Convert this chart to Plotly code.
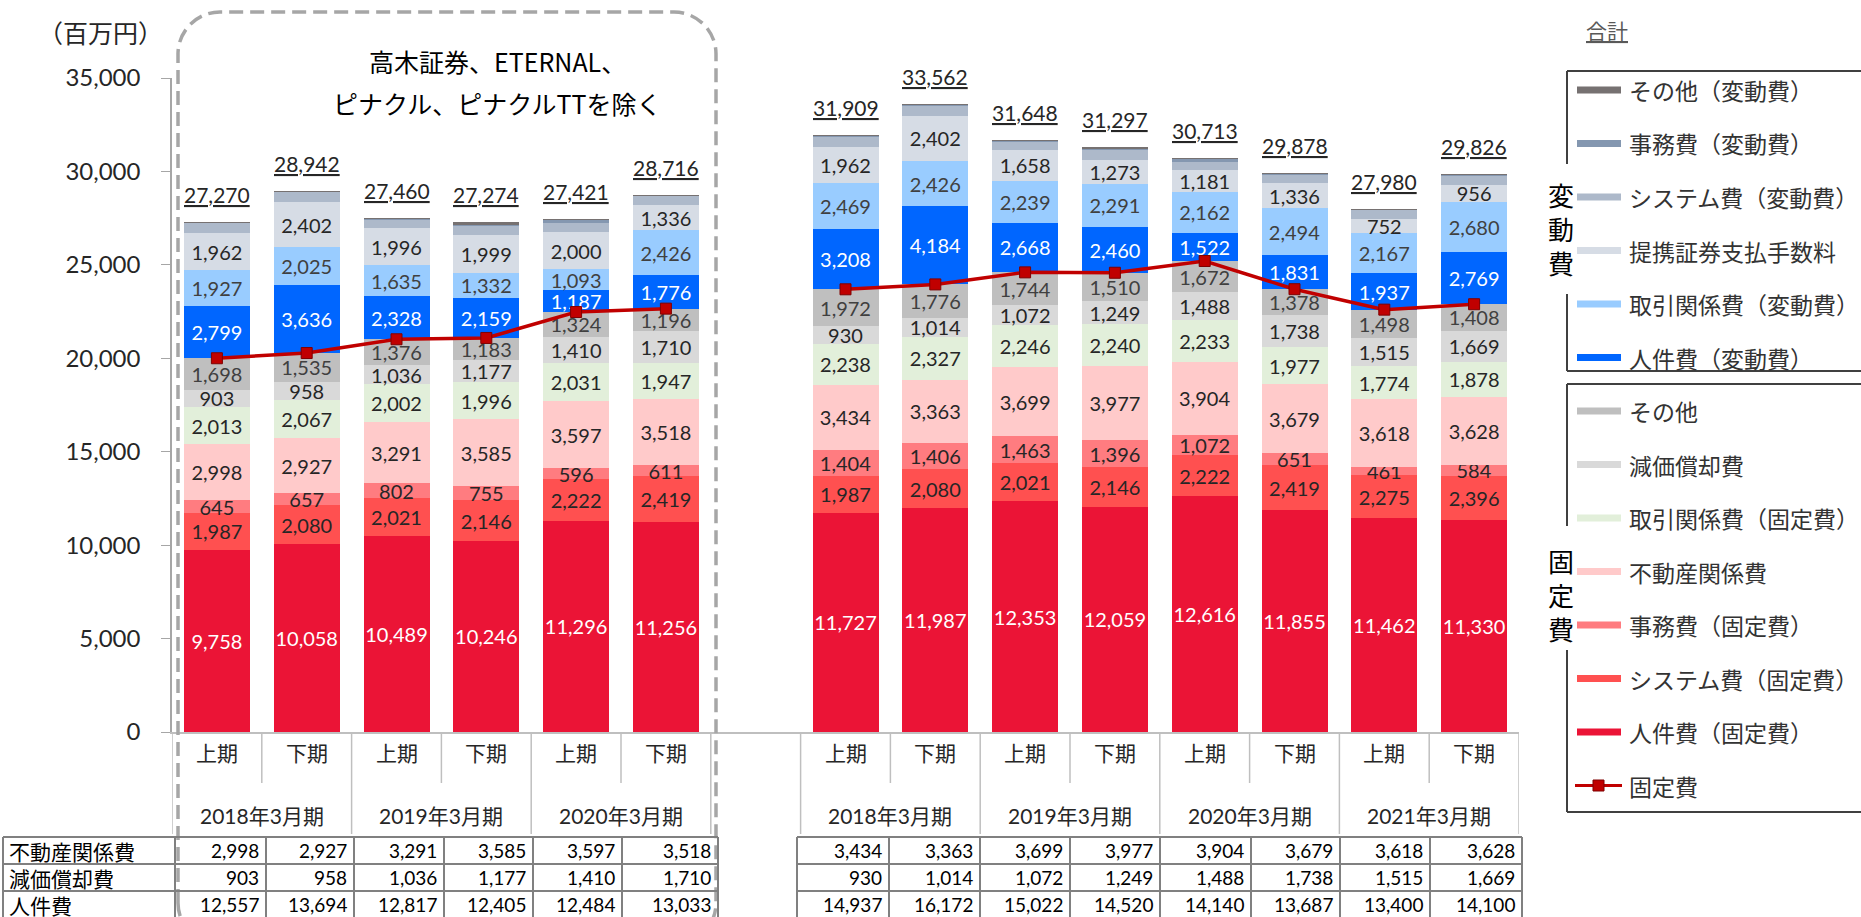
import plotly.graph_objects as go

W, H = 1861, 917

# ---------------- data ----------------
cat_x = list(range(15))  # 0-5 left panel, 6 = blank gap, 7-14 right panel
half_labels = ["上期", "下期", "上期", "下期", "上期", "下期", "",
               "上期", "下期", "上期", "下期", "上期", "下期", "上期", "下期"]
year_labels_left = ["2018年3月期", "2019年3月期", "2020年3月期"]
year_labels_right = ["2018年3月期", "2019年3月期", "2020年3月期", "2021年3月期"]

personnel_fixed = [9758, 10058, 10489, 10246, 11296, 11256, None, 11727, 11987, 12353, 12059, 12616, 11855, 11462, 11330]
system_fixed = [1987, 2080, 2021, 2146, 2222, 2419, None, 1987, 2080, 2021, 2146, 2222, 2419, 2275, 2396]
office_fixed = [645, 657, 802, 755, 596, 611, None, 1404, 1406, 1463, 1396, 1072, 651, 461, 584]
realestate = [2998, 2927, 3291, 3585, 3597, 3518, None, 3434, 3363, 3699, 3977, 3904, 3679, 3618, 3628]
trade_fixed = [2013, 2067, 2002, 1996, 2031, 1947, None, 2238, 2327, 2246, 2240, 2233, 1977, 1774, 1878]
depreciation = [903, 958, 1036, 1177, 1410, 1710, None, 930, 1014, 1072, 1249, 1488, 1738, 1515, 1669]
other_fixed = [1698, 1535, 1376, 1183, 1324, 1196, None, 1972, 1776, 1744, 1510, 1672, 1378, 1498, 1408]
personnel_var = [2799, 3636, 2328, 2159, 1187, 1776, None, 3208, 4184, 2668, 2460, 1522, 1831, 1937, 2769]
trade_var = [1927, 2025, 1635, 1332, 1093, 2426, None, 2469, 2426, 2239, 2291, 2162, 2494, 2167, 2680]
alliance_fee = [1962, 2402, 1996, 1999, 2000, 1336, None, 1962, 2402, 1658, 1273, 1181, 1336, 752, 956]
system_var = [550, 570, 464, 526, 500, 496, None, 548, 570, 460, 580, 446, 495, 496, 503]
office_var = [25, 22, 15, 40, 150, 20, None, 25, 22, 20, 66, 180, 20, 20, 20]
other_var = [5, 5, 5, 130, 15, 5, None, 5, 5, 5, 50, 15, 5, 5, 5]

totals = [27270, 28942, 27460, 27274, 27421, 28716, None, 31909, 33562, 31648, 31297, 30713, 29878, 27980, 29826]
fixed_cost = [20002, 20282, 21017, 21088, 22476, 22657, None, 23692, 23953, 24598, 24577, 25207, 23697, 22603, 22893]

table_row_names = ["不動産関係費", "減価償却費", "人件費"]
table_realestate = realestate
table_depreciation = depreciation
table_personnel = [12557, 13694, 12817, 12405, 12484, 13033, None, 14937, 16172, 15022, 14520, 14140, 13687, 13400, 14100]

y_ticks = [0, 5000, 10000, 15000, 20000, 25000, 30000, 35000]

# ---------------- style ----------------
NUM_FONT = "Lato, 'Noto Sans CJK JP', sans-serif"
JP_FONT = "'Noto Sans CJK JP', sans-serif"
DARK = "#262626"

series = [
    ("人件費（固定費）", personnel_fixed, "#EB1436", "white"),
    ("システム費（固定費）", system_fixed, "#FF5050", DARK),
    ("事務費（固定費）", office_fixed, "#FF7C80", DARK),
    ("不動産関係費", realestate, "#FFCACA", DARK),
    ("取引関係費（固定費）", trade_fixed, "#E2EFDA", DARK),
    ("減価償却費", depreciation, "#D9D9D9", DARK),
    ("その他", other_fixed, "#BFBFBF", "#404040"),
    ("人件費（変動費）", personnel_var, "#0066FF", "white"),
    ("取引関係費（変動費）", trade_var, "#99CCFF", "#404040"),
    ("提携証券支払手数料", alliance_fee, "#D6DCE5", DARK),
    ("システム費（変動費）", system_var, "#ADB9CA", None),
    ("事務費（変動費）", office_var, "#8497B0", None),
    ("その他（変動費）", other_var, "#767171", None),
]
LINE_COLOR = "#C00000"


def px(x):
    return x / W


def py(y):
    return 1 - y / H


def pann(x, y, text, size, color, family=JP_FONT, xanchor="center"):
    return dict(x=px(x), y=py(y), xref="paper", yref="paper", text=text, showarrow=False,
                xanchor=xanchor, yanchor="middle", font=dict(family=family, size=size, color=color))


fig = go.Figure()
for name, vals, col, tcol in series:
    kw = {}
    if tcol:
        kw = dict(texttemplate="%{y:,}", textposition="inside", insidetextanchor="middle",
                  textangle=0, constraintext="none",
                  textfont=dict(family=NUM_FONT, size=20, color=tcol))
    fig.add_trace(go.Bar(x=cat_x, y=vals, name=name, marker=dict(color=col, line=dict(width=0)),
                         hoverinfo="skip", **kw))

fig.add_trace(go.Scatter(x=cat_x, y=fixed_cost, name="固定費", mode="lines+markers",
                         line=dict(color=LINE_COLOR, width=3.5),
                         marker=dict(symbol="square", size=11, color=LINE_COLOR,
                                     line=dict(color="#7F0000", width=1)),
                         hoverinfo="skip"))

ann = []
shapes = []

# totals above bars
for k, t in zip(cat_x, totals):
    if t is None:
        continue
    ann.append(dict(x=k, y=t, xref="x", yref="y", text=f"<u>{t:,}</u>", showarrow=False,
                    xanchor="center", yanchor="middle", yshift=28,
                    font=dict(family=NUM_FONT, size=21, color=DARK)))

# category labels
for k, lab in zip(cat_x, half_labels):
    if lab:
        ann.append(dict(x=k, y=py(752), xref="x", yref="paper", text=lab, showarrow=False,
                        xanchor="center", yanchor="middle",
                        font=dict(family=JP_FONT, size=21, color=DARK)))
for i, lab in enumerate(year_labels_left):
    ann.append(dict(x=2 * i + 0.5, y=py(815), xref="x", yref="paper", text=lab, showarrow=False,
                    xanchor="center", yanchor="middle",
                    font=dict(family=NUM_FONT, size=21, color=DARK)))
for i, lab in enumerate(year_labels_right):
    ann.append(dict(x=7 + 2 * i + 0.5, y=py(815), xref="x", yref="paper", text=lab, showarrow=False,
                    xanchor="center", yanchor="middle",
                    font=dict(family=NUM_FONT, size=21, color=DARK)))

# category dividers
long_b = [-0.5, 1.5, 3.5, 5.5, 6.5, 8.5, 10.5, 12.5, 14.5]
short_b = [0.5, 2.5, 4.5, 7.5, 9.5, 11.5, 13.5]
for b in long_b:
    shapes.append(dict(type="line", xref="x", yref="paper", x0=b, x1=b, y0=py(732), y1=py(834),
                       line=dict(color="#BFBFBF", width=1.5)))
for b in short_b:
    shapes.append(dict(type="line", xref="x", yref="paper", x0=b, x1=b, y0=py(732), y1=py(783),
                       line=dict(color="#BFBFBF", width=1.5)))

# unit label
ann.append(pann(100, 32, "（百万円）", 25, DARK))

# dashed rounded box and its caption
x0, x1, y0, y1, r = 178, 716, 12, 945, 42
c = 0.45
pts = [
    f"M {px(x0)},{py(y1 - r)}",
    f"L {px(x0)},{py(y0 + r)}",
    f"C {px(x0)},{py(y0 + r * c)} {px(x0 + r * c)},{py(y0)} {px(x0 + r)},{py(y0)}",
    f"L {px(x1 - r)},{py(y0)}",
    f"C {px(x1 - r * c)},{py(y0)} {px(x1)},{py(y0 + r * c)} {px(x1)},{py(y0 + r)}",
    f"L {px(x1)},{py(y1 - r)}",
    f"C {px(x1)},{py(y1 - r * c)} {px(x1 - r * c)},{py(y1)} {px(x1 - r)},{py(y1)}",
    f"L {px(x0 + r)},{py(y1)}",
    f"C {px(x0 + r * c)},{py(y1)} {px(x0)},{py(y1 - r * c)} {px(x0)},{py(y1 - r)}",
]
shapes.append(dict(type="path", xref="paper", yref="paper", path=" ".join(pts),
                   line=dict(color="#A6A6A6", width=3.5, dash="14px,7px"), layer="above"))
ann.append(pann(497, 61, "高木証券、ETERNAL、", 25, "black"))
ann.append(pann(497, 103, "ピナクル、ピナクルTTを除く", 25, "black"))

# ---------------- tables ----------------
row_y = [837, 864, 891, 918]
TCOL = "#808080"
left_cols = [3, 175, 266, 354, 444, 533, 622, 718]
right_cols = [797, 889, 980, 1070, 1160, 1251, 1340, 1430, 1522]
table_rows = [table_realestate, table_depreciation, table_personnel]


def draw_table(cols, idxs, with_header):
    for yy in row_y:
        shapes.append(dict(type="line", xref="paper", yref="paper", x0=px(cols[0]), x1=px(cols[-1]),
                           y0=py(yy), y1=py(yy), line=dict(color=TCOL, width=2)))
    for xx in cols:
        shapes.append(dict(type="line", xref="paper", yref="paper", x0=px(xx), x1=px(xx),
                           y0=py(row_y[0]), y1=py(row_y[-1]), line=dict(color=TCOL, width=2)))
    start = 1 if with_header else 0
    for ri, vals in enumerate(table_rows):
        yc = (row_y[ri] + row_y[ri + 1]) / 2
        if with_header:
            ann.append(pann(cols[0] + 4, yc, table_row_names[ri], 21, "black", xanchor="left"))
        for j, k in enumerate(idxs):
            ann.append(pann(cols[start + j + 1] - 5, yc, f"{vals[k]:,}", 19, "black",
                            family=NUM_FONT, xanchor="right"))


draw_table(left_cols, [0, 1, 2, 3, 4, 5], True)
draw_table(right_cols, [7, 8, 9, 10, 11, 12, 13, 14], False)

# ---------------- legend (drawn manually) ----------------
ann.append(pann(1607, 30, "<u>合計</u>", 21, "#595959"))
legend_items = [(s[0], s[2]) for s in series[::-1]]
for i, (name, col) in enumerate(legend_items):
    yy = 90 + 53.5 * i
    shapes.append(dict(type="line", xref="paper", yref="paper", x0=px(1577), x1=px(1621),
                       y0=py(yy), y1=py(yy), line=dict(color=col, width=7)))
    ann.append(pann(1627, yy, name, 23, "#333333", xanchor="left"))
yy = 90 + 53.5 * len(legend_items)
shapes.append(dict(type="line", xref="paper", yref="paper", x0=px(1575), x1=px(1622),
                   y0=py(yy), y1=py(yy), line=dict(color=LINE_COLOR, width=3)))
shapes.append(dict(type="rect", xref="paper", yref="paper", x0=px(1593), x1=px(1604),
                   y0=py(yy - 5.5), y1=py(yy + 5.5), line=dict(color="#7F0000", width=1),
                   fillcolor=LINE_COLOR))
ann.append(pann(1627, yy, "固定費", 23, "#333333", xanchor="left"))

# legend group boxes
BOX = "#404040"
for (top, brk0, brk1, bot) in [(71, 164, 294, 371), (384, 526, 650, 812)]:
    shapes.append(dict(type="line", xref="paper", yref="paper", x0=px(1567), x1=px(1870),
                       y0=py(top), y1=py(top), line=dict(color=BOX, width=2)))
    shapes.append(dict(type="line", xref="paper", yref="paper", x0=px(1567), x1=px(1870),
                       y0=py(bot), y1=py(bot), line=dict(color=BOX, width=2)))
    shapes.append(dict(type="line", xref="paper", yref="paper", x0=px(1567), x1=px(1567),
                       y0=py(top), y1=py(brk0), line=dict(color=BOX, width=2)))
    shapes.append(dict(type="line", xref="paper", yref="paper", x0=px(1567), x1=px(1567),
                       y0=py(brk1), y1=py(bot), line=dict(color=BOX, width=2)))
ann.append(pann(1561, 228, "変<br>動<br>費", 26, "black"))
ann.append(pann(1561, 594, "固<br>定<br>費", 26, "black"))

fig.update_layout(
    width=W, height=H, margin=dict(l=0, r=0, t=0, b=0, pad=0, autoexpand=False),
    barmode="stack", bargap=0.265,
    plot_bgcolor="white", paper_bgcolor="white", showlegend=False,
    xaxis=dict(domain=[px(172), px(1519)], range=[-0.5, 14.5], showticklabels=False, showgrid=False,
               zeroline=False, showline=True, linecolor="#BFBFBF", linewidth=1.5, ticks="",
               automargin=False),
    yaxis=dict(domain=[py(732), py(78)], range=[0, 35000], tickvals=y_ticks, tickformat=",",
               ticks="outside", ticklen=9, tickcolor="#A6A6A6", showline=True, linecolor="#A6A6A6",
               linewidth=1.5, showgrid=False, zeroline=False, ticklabelstandoff=16, automargin=False,
               tickfont=dict(family=NUM_FONT, size=24, color=DARK)),
    annotations=ann, shapes=shapes,
)

fig.write_html("out.html", config={"displayModeBar": False},
               post_script="document.body.style.margin='0';document.body.style.overflow='hidden';")
